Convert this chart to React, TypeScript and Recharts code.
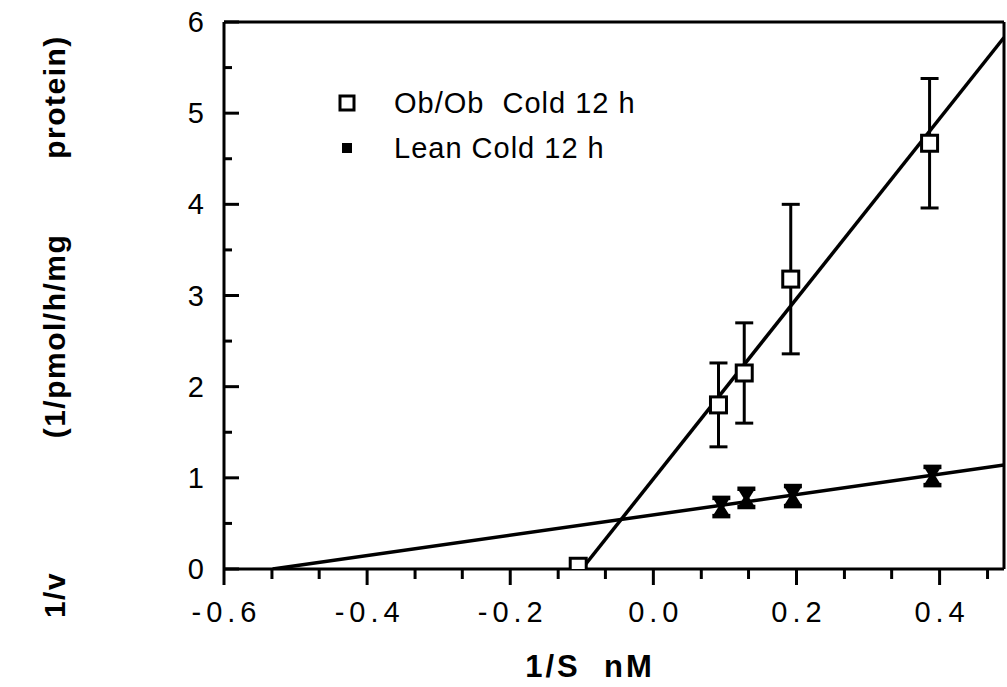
import { ComposedChart, Line, Scatter, ErrorBar, XAxis, YAxis, ReferenceLine, Legend } from 'recharts';

// Ob/Ob Cold 12 h measurements (1/S, 1/v, SEM)
const obX = [-0.105, 0.091, 0.127, 0.192, 0.386];
const obY = [0.03, 1.8, 2.15, 3.18, 4.67];
const obErr = [0, 0.46, 0.55, 0.82, 0.71];

// Lean Cold 12 h measurements
const leanX = [0.095, 0.13, 0.195, 0.39];
const leanY = [0.68, 0.78, 0.8, 1.02];
const leanErr = [0.1, 0.1, 0.11, 0.1];

// fitted regression lines (end points as drawn)
const obFitX = [-0.1, 0.49];
const obFitY = [0, 5.83];
const leanFitX = [-0.532, 0.49];
const leanFitY = [0, 1.14];

const xMajor = [-0.6, -0.4, -0.2, 0, 0.2, 0.4];
const xMinor = [-0.533, -0.467, -0.333, -0.267, -0.133, -0.067, 0.067, 0.133, 0.267, 0.333, 0.467];
const yMajor = [0, 1, 2, 3, 4, 5, 6];
const yMinor = [0.5, 1.5, 2.5, 3.5, 4.5, 5.5];

const FONT = '"Liberation Sans", Arial, Helvetica, sans-serif';

const toPoints = (xs: number[], ys: number[], errs?: number[]) =>
  xs.map((x, i) => ({ x, y: ys[i], err: errs ? errs[i] : 0 }));

const obData = toPoints(obX, obY, obErr);
const leanData = toPoints(leanX, leanY, leanErr);
const obFit = toPoints(obFitX, obFitY);
const leanFit = toPoints(leanFitX, leanFitY);

const xTicks = [...xMajor, ...xMinor].sort((a, b) => a - b);
const yTicks = [...yMajor, ...yMinor].sort((a, b) => a - b);

const XTick = ({ x, y, payload }: any) => {
  const major = xMajor.includes(payload.value);
  return (
    <g>
      <line x1={x} y1={y} x2={x} y2={y + (major ? 16 : 10)} stroke="#000" strokeWidth={3} />
      {major && (
        <text x={x + 2.5} y={y + 53} textAnchor="middle" fontSize={29} letterSpacing={5} fontFamily={FONT} fill="#000">
          {payload.value.toFixed(1)}
        </text>
      )}
    </g>
  );
};

const YTickLeft = ({ x, y, payload }: any) => {
  const major = yMajor.includes(payload.value);
  return (
    <g>
      <line x1={x} y1={y} x2={x + (major ? 15 : 8)} y2={y} stroke="#000" strokeWidth={3} />
      {major && (
        <text x={x - 20} y={y + 10} textAnchor="end" fontSize={29} fontFamily={FONT} fill="#000">
          {payload.value}
        </text>
      )}
    </g>
  );
};

const YTickRight = ({ x, y, payload }: any) => {
  const major = yMajor.includes(payload.value);
  return <line x1={x} y1={y} x2={x - (major ? 13 : 8)} y2={y} stroke="#000" strokeWidth={3} />;
};

const ObMarker = ({ cx, cy }: any) => (
  <rect x={cx - 8} y={cy - 8} width={16} height={16} fill="#fff" stroke="#000" strokeWidth={3} />
);

const LeanMarker = ({ cx, cy }: any) => (
  <path d={`M${cx - 8} ${cy - 8} L${cx + 8} ${cy - 8} L${cx + 3} ${cy} L${cx + 8} ${cy + 8} L${cx - 8} ${cy + 8} L${cx - 3} ${cy} Z`} fill="#000" />
);

const YTitle = () => (
  <g fontFamily={FONT} fontWeight="bold" fontSize={30} letterSpacing={1.5} fill="#000">
    <text transform="translate(65, 595) rotate(-90)" textAnchor="middle">1/v</text>
    <text transform="translate(65, 336) rotate(-90)" textAnchor="middle">(1/pmol/h/mg</text>
    <text transform="translate(65, 97) rotate(-90)" textAnchor="middle">protein)</text>
  </g>
);

const XTitle = () => (
  <text x={590} y={677} textAnchor="middle" fontFamily={FONT} fontWeight="bold" fontSize={31} letterSpacing={3} fill="#000" style={{ whiteSpace: 'pre' }}>
    {'1/S  nM'}
  </text>
);

const LegendBox = () => (
  <svg width={380} height={76} style={{ display: 'block' }}>
    <rect x={9} y={8} width={14} height={14} fill="#fff" stroke="#000" strokeWidth={3} />
    <text x={63} y={25} fontSize={29} letterSpacing={1} fontFamily={FONT} fill="#000" style={{ whiteSpace: 'pre' }}>
      {'Ob/Ob  Cold 12 h'}
    </text>
    <rect x={11} y={55} width={10} height={10} fill="#000" />
    <text x={63} y={70} fontSize={29} letterSpacing={1} fontFamily={FONT} fill="#000">
      Lean Cold 12 h
    </text>
  </svg>
);

export default function App() {
  return (
    <div style={{ position: 'absolute', left: 0, top: 0, width: 1007, height: 687, background: '#fff' }}>
      <ComposedChart width={1007} height={687} margin={{ top: 22, right: 2, left: 0, bottom: 0 }}>
        <XAxis
          type="number"
          dataKey="x"
          domain={[-0.6, 0.49]}
          allowDataOverflow
          ticks={xTicks}
          interval={0}
          tick={<XTick />}
          tickLine={false}
          tickSize={0}
          tickMargin={0}
          height={118}
          axisLine={{ stroke: '#000', strokeWidth: 3 }}
          label={<XTitle />}
        />
        <YAxis
          type="number"
          dataKey="y"
          domain={[0, 6]}
          allowDataOverflow
          ticks={yTicks}
          interval={0}
          tick={<YTickLeft />}
          tickLine={false}
          tickSize={0}
          tickMargin={0}
          width={224}
          axisLine={{ stroke: '#000', strokeWidth: 3 }}
          label={<YTitle />}
        />
        <YAxis
          yAxisId="r"
          orientation="right"
          type="number"
          domain={[0, 6]}
          ticks={yTicks}
          interval={0}
          tick={<YTickRight />}
          tickLine={false}
          tickSize={0}
          tickMargin={0}
          width={1}
          axisLine={{ stroke: '#000', strokeWidth: 3 }}
        />
        <ReferenceLine y={6} stroke="#000" strokeWidth={3} />
        <Line data={obFit} dataKey="y" stroke="#000" strokeWidth={3.5} dot={false} isAnimationActive={false} legendType="none" />
        <Line data={leanFit} dataKey="y" stroke="#000" strokeWidth={3.5} dot={false} isAnimationActive={false} legendType="none" />
        <Scatter name="Ob/Ob Cold 12 h" data={obData} dataKey="y" shape={<ObMarker />} isAnimationActive={false}>
          <ErrorBar dataKey="err" direction="y" width={9} stroke="#000" strokeWidth={3} isAnimationActive={false} />
        </Scatter>
        <Scatter name="Lean Cold 12 h" data={leanData} dataKey="y" shape={<LeanMarker />} isAnimationActive={false}>
          <ErrorBar dataKey="err" direction="y" width={9} stroke="#000" strokeWidth={4.5} isAnimationActive={false} />
        </Scatter>
        <Legend
          layout="vertical"
          align="center"
          verticalAlign="middle"
          content={<LegendBox />}
          wrapperStyle={{ top: 88, left: 331, width: 380 }}
        />
      </ComposedChart>
    </div>
  );
}
